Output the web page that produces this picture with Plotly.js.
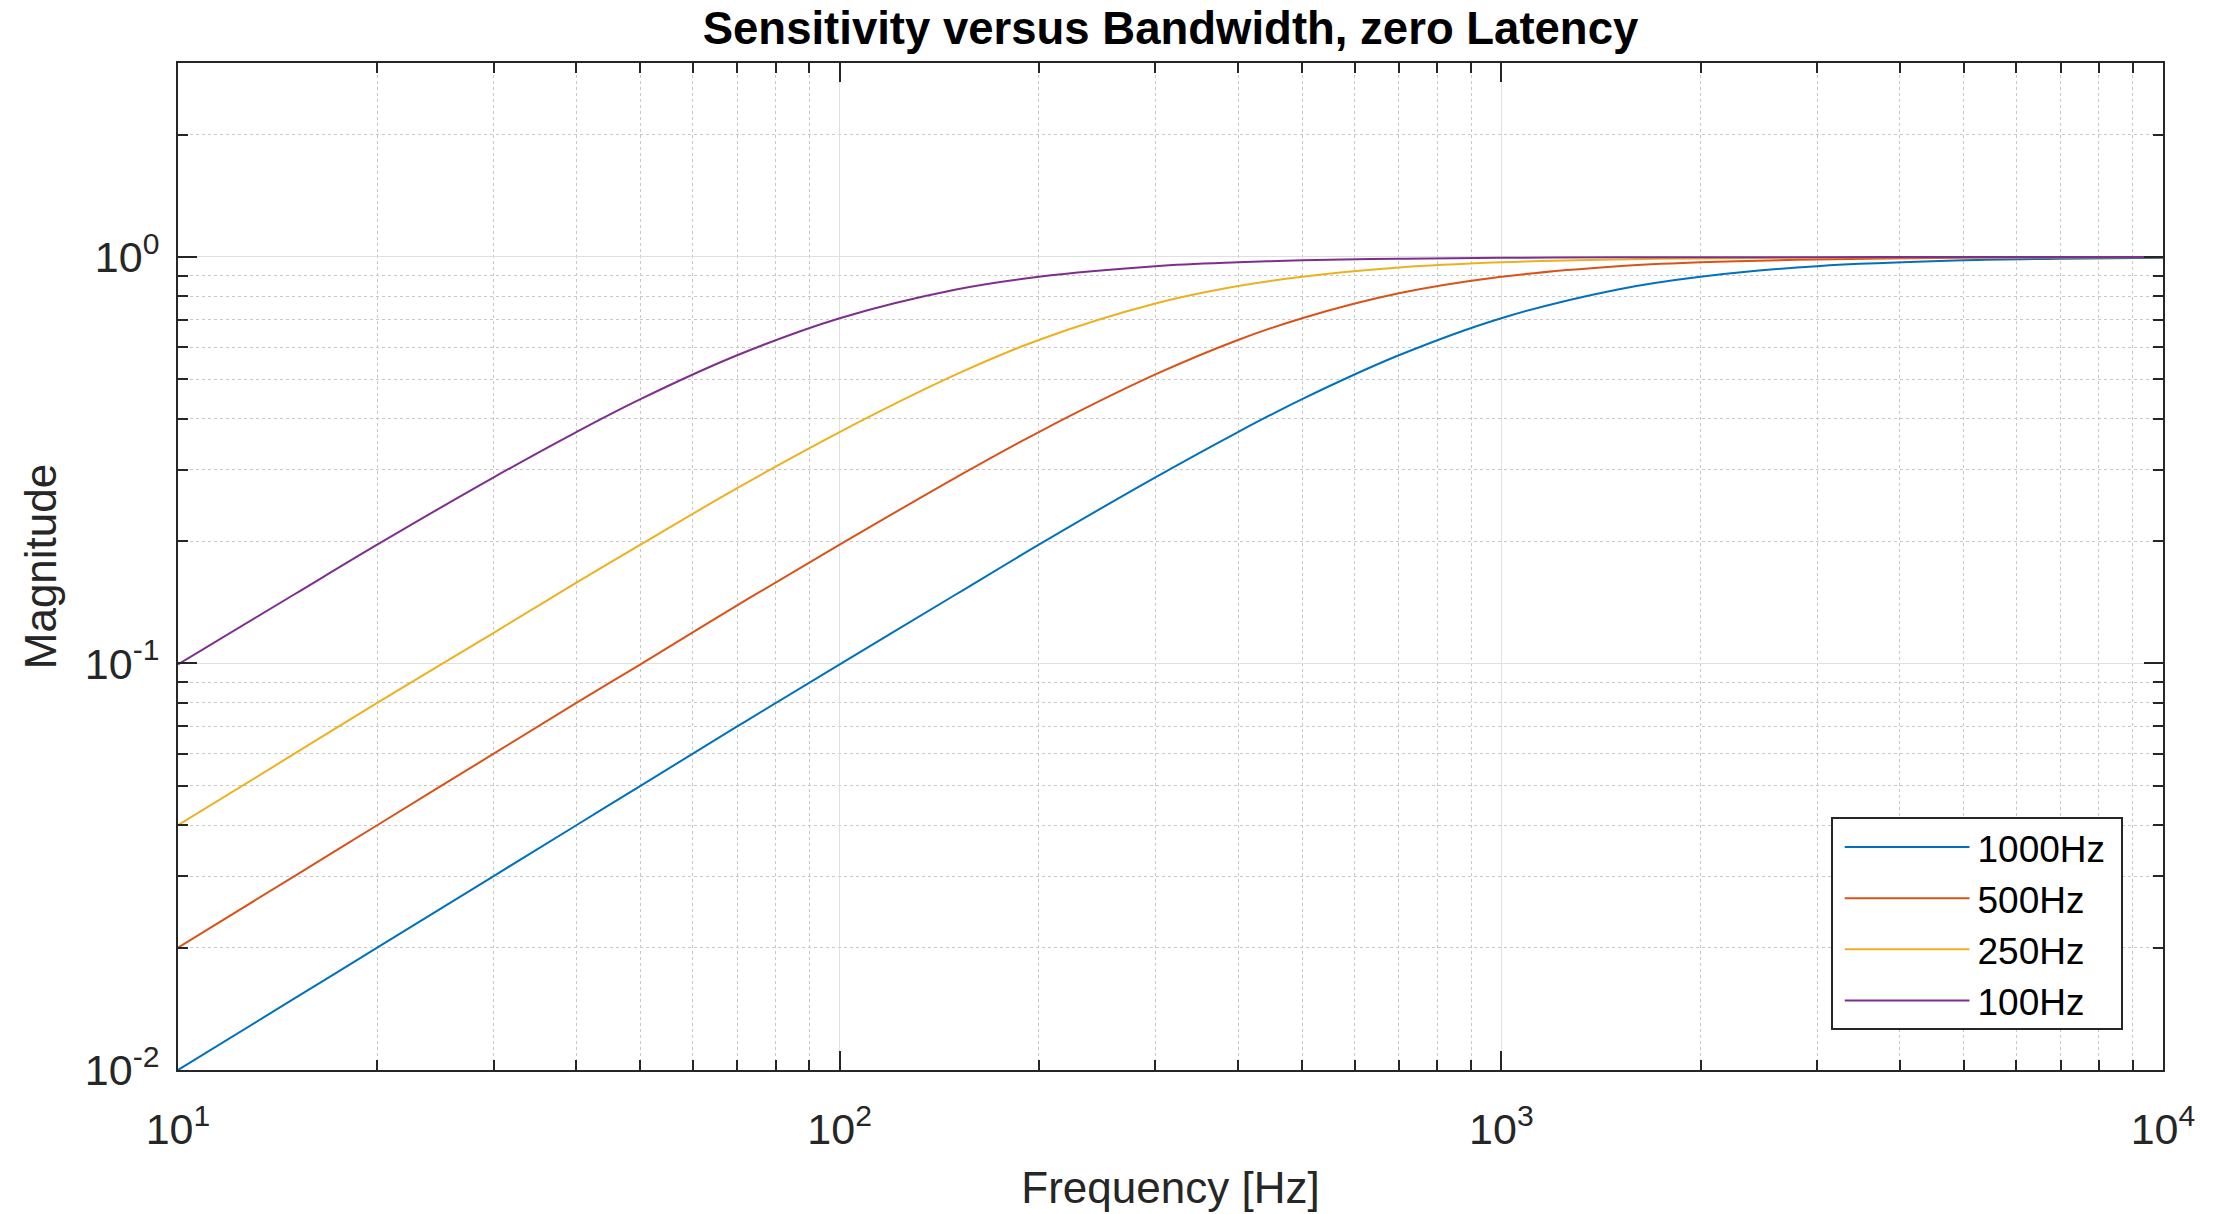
<!DOCTYPE html>
<html>
<head>
<meta charset="utf-8">
<script src="https://cdn.plot.ly/plotly-3.0.1.min.js"></script>
<style>
  html, body { margin: 0; padding: 0; background: #ffffff; }
  #chart { width: 2213px; height: 1214px; }
</style>
</head>
<body>
<div id="chart"></div>
<script>
// Frequencies (Hz) at which the curves were read
const freq = [10, 15, 20, 30, 40, 50, 70, 100, 150, 200, 300, 400, 500, 700, 1000, 1500, 2000, 3000, 5000, 7000, 10000];

// Magnitude readings for each bandwidth
const mag1000 = [0.010, 0.015, 0.020, 0.030, 0.040, 0.050, 0.070, 0.0995, 0.148, 0.196, 0.287, 0.371, 0.447, 0.573, 0.707, 0.832, 0.894, 0.949, 0.981, 0.990, 0.995];
const mag500  = [0.020, 0.030, 0.040, 0.060, 0.080, 0.0995, 0.139, 0.196, 0.287, 0.371, 0.514, 0.625, 0.707, 0.814, 0.894, 0.949, 0.970, 0.986, 0.995, 0.997, 0.999];
const mag250  = [0.040, 0.060, 0.080, 0.119, 0.158, 0.196, 0.270, 0.371, 0.514, 0.625, 0.768, 0.848, 0.894, 0.942, 0.970, 0.986, 0.992, 0.997, 0.999, 0.999, 1.000];
const mag100  = [0.0995, 0.148, 0.196, 0.287, 0.371, 0.447, 0.573, 0.707, 0.832, 0.894, 0.949, 0.970, 0.981, 0.990, 0.995, 0.998, 0.999, 0.999, 1.000, 1.000, 1.000];

const seriesNames = ['1000Hz', '500Hz', '250Hz', '100Hz'];
const seriesColors = ['#0072BD', '#D95319', '#EDB120', '#7E2F8E'];

// Axis tick labels
const xTickVals = [10, 100, 1000, 10000];
const xTickText = ['10<sup>1</sup>', '10<sup>2</sup>', '10<sup>3</sup>', '10<sup>4</sup>'];
const yTickVals = [0.01, 0.1, 1];
const yTickText = ['10<sup>-2</sup>', '10<sup>-1</sup>', '10<sup>0</sup>'];
const xMinorVals = [20,30,40,50,60,70,80,90,200,300,400,500,600,700,800,900,2000,3000,4000,5000,6000,7000,8000,9000];
const yMinorVals = [0.02,0.03,0.04,0.05,0.06,0.07,0.08,0.09,0.2,0.3,0.4,0.5,0.6,0.7,0.8,0.9,2,3];

const seriesValues = [mag1000, mag500, mag250, mag100];
const traces = seriesValues.map((vals, i) => ({
  x: freq,
  y: vals,
  type: 'scatter',
  mode: 'lines',
  name: seriesNames[i],
  line: { color: seriesColors[i], width: 2, shape: 'spline', smoothing: 1 }
}));

const fontFam = '"Liberation Sans", Arial, Helvetica, sans-serif';
const axisCommon = {
  type: 'log',
  showline: true,
  linecolor: '#262626',
  linewidth: 2,
  mirror: 'allticks',
  ticks: 'inside',
  ticklen: 19,
  tickwidth: 2,
  tickcolor: '#262626',
  showgrid: true,
  gridcolor: '#e0e0e0',
  gridwidth: 1,
  zeroline: false,
  tickmode: 'array',
  tickfont: { family: fontFam, size: 43, color: '#262626' }
};

const layout = {
  width: 2213,
  height: 1214,
  paper_bgcolor: '#ffffff',
  plot_bgcolor: '#ffffff',
  margin: { l: 178, r: 50, t: 63, b: 144 },
  font: { family: fontFam, color: '#262626' },
  title: {
    text: '<b>Sensitivity versus Bandwidth, zero Latency</b>',
    font: { family: fontFam, size: 45.5, color: '#000000' },
    x: 0.5, xanchor: 'center', xref: 'paper',
    y: 0.977, yanchor: 'middle'
  },
  xaxis: Object.assign({}, axisCommon, {
    range: [1, 4],
    tickvals: xTickVals,
    ticktext: xTickText,
    ticklabelstandoff: 20,
    minor: {
      tickmode: 'array', tickvals: xMinorVals,
      ticks: 'inside', ticklen: 10, tickwidth: 2, tickcolor: '#262626',
      showgrid: true, gridcolor: '#c8c8c8', griddash: 'dot', gridwidth: 1
    },
    title: { text: 'Frequency [Hz]', font: { family: fontFam, size: 44, color: '#262626' }, standoff: 21 }
  }),
  yaxis: Object.assign({}, axisCommon, {
    range: [-2, Math.log10(3)],
    tickvals: yTickVals,
    ticktext: yTickText,
    ticklabelstandoff: 8,
    minor: {
      tickmode: 'array', tickvals: yMinorVals,
      ticks: 'inside', ticklen: 10, tickwidth: 2, tickcolor: '#262626',
      showgrid: true, gridcolor: '#c8c8c8', griddash: 'dot', gridwidth: 1
    },
    title: { text: 'Magnitude', font: { family: fontFam, size: 44, color: '#262626' }, standoff: 14 }
  }),
  showlegend: true,
  legend: {
    x: 0.9743, xanchor: 'right',
    y: 0.0367, yanchor: 'bottom',
    bgcolor: '#ffffff',
    bordercolor: '#262626',
    borderwidth: 1.5,
    itemwidth: 123,
    font: { family: fontFam, size: 37, color: '#000000' }
  }
};

Plotly.newPlot('chart', traces, layout, { displayModeBar: false, staticPlot: true }).then(function () {
  // MATLAB-style long legend line samples
  document.querySelectorAll('#chart .legendlines path').forEach(function (p) {
    p.setAttribute('d', 'M0,0h125');
  });
  // widen the legend box to MATLAB proportions
  const bg = document.querySelector('#chart .legend .bg');
  if (bg) {
    const host = document.getElementById('chart').getBoundingClientRect();
    const r = bg.getBoundingClientRect();
    const x0 = parseFloat(bg.getAttribute('x')) || 0;
    const y0 = parseFloat(bg.getAttribute('y')) || 0;
    const boxL = 1832, boxR = 2122, boxT = 818, boxB = 1029;
    bg.setAttribute('x', x0 + (boxL - (r.left - host.left)));
    bg.setAttribute('width', boxR - boxL);
    bg.setAttribute('y', y0 + (boxT - (r.top - host.top)));
    bg.setAttribute('height', boxB - boxT);
  }
});
</script>
</body>
</html>
